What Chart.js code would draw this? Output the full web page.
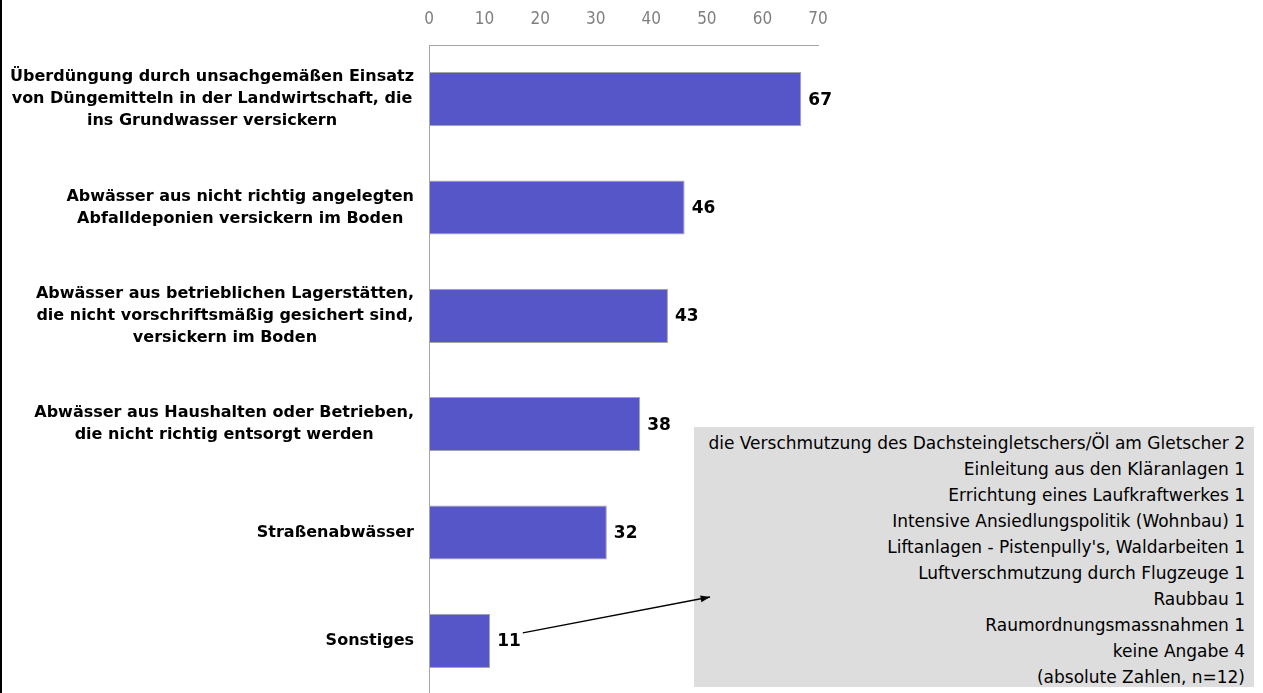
<!DOCTYPE html>
<html>
<head>
<meta charset="utf-8">
<script src="https://cdn.jsdelivr.net/npm/chart.js@4"></script>
<style>
  html, body { margin: 0; padding: 0; background: #fff; overflow: hidden; }
  #wrap { position: relative; width: 1263px; height: 700px; }
  #frame { position: absolute; left: 0; top: 0; width: 2px; height: 700px; background: #000; }
  #note {
    position: absolute; left: 694px; top: 427px; width: 560px; height: 260px;
    background: #dddddd; box-sizing: border-box; padding: 3px 9px 0 0;
    text-align: right; font-family: 'DejaVu Sans', sans-serif;
    font-size: 17px; line-height: 26px; color: #000; z-index: 0; white-space: nowrap;
  }
  #chartBox { position: absolute; left: 0; top: 0; width: 1263px; height: 700px; z-index: 1; }
</style>
</head>
<body>
<div id="wrap">
  <div id="frame"></div>
  <div id="note"></div>
  <div id="chartBox"><canvas id="c"></canvas></div>
</div>
<script>
'use strict';

/* ── Data ─────────────────────────────────── */
const CATEGORIES = [
  ['Überdüngung durch unsachgemäßen Einsatz', 'von Düngemitteln in der Landwirtschaft, die', 'ins Grundwasser versickern'],
  ['Abwässer aus nicht richtig angelegten', 'Abfalldeponien versickern im Boden'],
  ['Abwässer aus betrieblichen Lagerstätten,', 'die nicht vorschriftsmäßig gesichert sind,', 'versickern im Boden'],
  ['Abwässer aus Haushalten oder Betrieben,', 'die nicht richtig entsorgt werden'],
  ['Straßenabwässer'],
  ['Sonstiges'],
];
const VALUES = [67, 46, 43, 38, 32, 11];
const X_TICKS = [0, 10, 20, 30, 40, 50, 60, 70];
const OTHER_ITEMS = [
  'die Verschmutzung des Dachsteingletschers/Öl am Gletscher 2',
  'Einleitung aus den Kläranlagen 1',
  'Errichtung eines Laufkraftwerkes 1',
  'Intensive Ansiedlungspolitik (Wohnbau) 1',
  "Liftanlagen - Pistenpully's, Waldarbeiten 1",
  'Luftverschmutzung durch Flugzeuge 1',
  'Raubbau 1',
  'Raumordnungsmassnahmen 1',
  'keine Angabe 4',
  '(absolute Zahlen, n=12)',
];

/* ── Styles ───────────────────────────────── */
const BAR_FILL   = '#5656c8';
const BAR_BORDER = '#a6a6a6';
const AXIS_GRAY  = '#a6a6a6';
const LABEL_FONT = "bold 16px 'DejaVu Sans', sans-serif";
const VALUE_FONT = "bold 17px 'DejaVu Sans', sans-serif";

document.getElementById('note').innerHTML = OTHER_ITEMS.map(t => `<div>${t}</div>`).join('');

/* ── Category labels: block right-aligned, lines centred ── */
const catLabels = {
  id: 'catLabels',
  afterDraw(chart) {
    const { ctx } = chart;
    const y = chart.scales.y;
    const right = y.right - 15;
    const lh = 22;
    ctx.save();
    ctx.font = LABEL_FONT;
    ctx.fillStyle = '#000';
    ctx.textAlign = 'center';
    ctx.textBaseline = 'middle';
    CATEGORIES.forEach((lines, i) => {
      const w = Math.max(...lines.map(l => ctx.measureText(l).width));
      const cx = right - w / 2;
      const cy = y.getPixelForValue(i);
      const y0 = cy - (lines.length - 1) * lh / 2;
      lines.forEach((l, k) => ctx.fillText(l, cx, y0 + k * lh));
    });
    ctx.restore();
  },
};

/* ── Value labels + arrow to the "Sonstiges" box ── */
const valueLabels = {
  id: 'valueLabels',
  afterDatasetsDraw(chart) {
    const { ctx } = chart;
    const meta = chart.getDatasetMeta(0);
    ctx.save();
    ctx.font = VALUE_FONT;
    ctx.fillStyle = '#000';
    ctx.textAlign = 'left';
    ctx.textBaseline = 'middle';
    let last = null;
    meta.data.forEach((bar, i) => {
      const tx = bar.x + 7;
      ctx.fillText(String(VALUES[i]), tx, bar.y + 1);
      last = { x: tx + ctx.measureText(String(VALUES[i])).width, y: bar.y };
    });
    // arrow from the last label to the note box
    const x1 = last.x + 2, y1 = last.y - 8, x2 = 710, y2 = 597;
    ctx.strokeStyle = '#000';
    ctx.lineWidth = 1.3;
    ctx.beginPath(); ctx.moveTo(x1, y1); ctx.lineTo(x2, y2); ctx.stroke();
    const a = Math.atan2(y2 - y1, x2 - x1);
    ctx.beginPath();
    ctx.moveTo(x2, y2);
    ctx.lineTo(x2 - 10 * Math.cos(a - 0.35), y2 - 10 * Math.sin(a - 0.35));
    ctx.lineTo(x2 - 10 * Math.cos(a + 0.35), y2 - 10 * Math.sin(a + 0.35));
    ctx.closePath(); ctx.fill();
    ctx.restore();
  },
};

new Chart(document.getElementById('c').getContext('2d'), {
  type: 'bar',
  data: {
    labels: CATEGORIES,
    datasets: [{
      data: VALUES,
      backgroundColor: BAR_FILL,
      borderColor: BAR_BORDER,
      borderWidth: 1,
      borderSkipped: false,
      barPercentage: 0.5,
      categoryPercentage: 1,
    }],
  },
  options: {
    indexAxis: 'y',
    responsive: true,
    maintainAspectRatio: false,
    animation: false,
    layout: { padding: { left: 0, right: 445, top: 0, bottom: 5 } },
    plugins: { legend: { display: false }, tooltip: { enabled: false } },
    scales: {
      x: {
        position: 'top',
        min: 0, max: 70,
        afterBuildTicks: s => { s.ticks = X_TICKS.map(v => ({ value: v })); },
        afterFit: s => { s.height = 45; },
        grid: { display: false, drawTicks: false },
        border: { display: true, color: AXIS_GRAY, width: 1 },
        ticks: {
          color: '#7f7f7f', padding: 15,
          font: { family: "'DejaVu Sans Condensed', sans-serif", size: 17 },
        },
      },
      y: {
        afterFit: s => { s.width = 429; },
        grid: { display: false, drawTicks: false },
        border: { display: true, color: AXIS_GRAY, width: 1 },
        ticks: { display: false },
      },
    },
  },
  plugins: [catLabels, valueLabels],
});
</script>
</body>
</html>
